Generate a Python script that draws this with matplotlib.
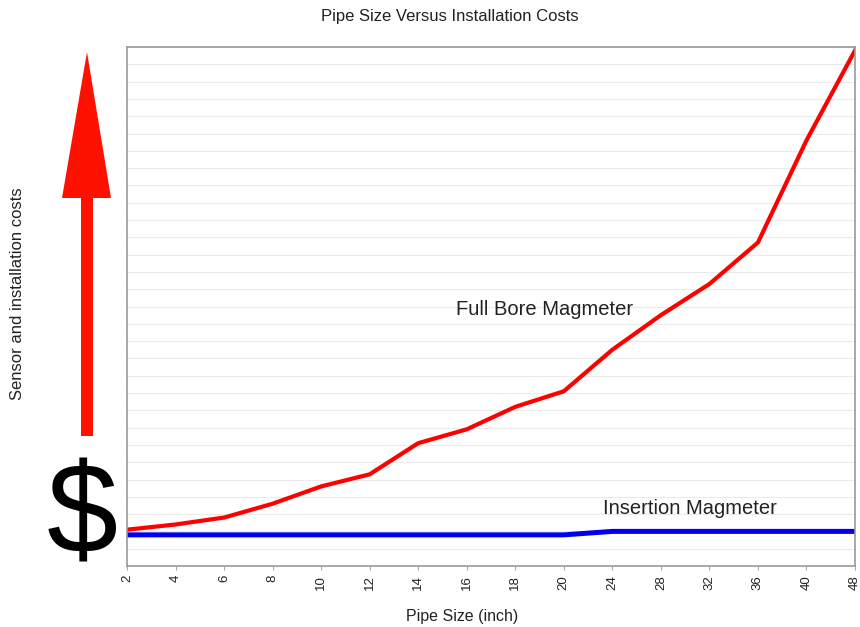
import numpy as np
import matplotlib.pyplot as plt
from matplotlib.patches import Polygon

plt.rcParams['font.family'] = ['Liberation Sans', 'DejaVu Sans']

pipe_sizes = ['2', '4', '6', '8', '10', '12', '14', '16', '18', '20', '24', '28', '32', '36', '40', '48']
full_bore = [2.1, 2.4, 2.8, 3.6, 4.6, 5.3, 7.1, 7.9, 9.2, 10.1, 12.5, 14.5, 16.3, 18.7, 24.6, 29.8]
insertion = [1.8, 1.8, 1.8, 1.8, 1.8, 1.8, 1.8, 1.8, 1.8, 1.8, 2.0, 2.0, 2.0, 2.0, 2.0, 2.0]

fig = plt.figure(figsize=(8.6, 6.27), dpi=100)
ax = fig.add_axes([127/860, 61/627, 728/860, 519/627])

x = np.arange(len(pipe_sizes))
ax.plot(x, full_bore, color='#ff0000', lw=3.0, solid_joinstyle='round')
ax.plot(x, insertion, color='#0000ee', lw=3.6)

ax.set_xlim(0, len(pipe_sizes) - 1)
ax.set_ylim(0, 30)
ax.set_xticks(x)
ax.set_xticklabels(pipe_sizes, rotation=90, fontsize=9.5, color='#222222')
ax.set_yticks(np.arange(0, 31, 1))
ax.set_yticklabels([])
ax.tick_params(axis='y', length=0)
ax.tick_params(axis='x', length=3, color='#aaaaaa')
ax.grid(axis='y', color='#ebebeb', lw=0.8)
for s in ax.spines.values():
    s.set_color('#999999')
    s.set_linewidth(1.2)

fig.text(462/860, 1 - 617/627, 'Pipe Size (inch)', ha='center', va='center',
         fontsize=11.5, color='#222222')
fig.text(450/860, 1 - 17/627, 'Pipe Size Versus Installation Costs', ha='center', va='center',
         fontsize=12, color='#222222')
fig.text(18/860, 1 - 294/627, 'Sensor and installation costs', rotation=90,
         ha='center', va='center', fontsize=12, color='#222222')

ax.text(8.6, 14.8, 'Full Bore Magmeter', ha='center', va='center', fontsize=14.5, color='#222222')
ax.text(11.6, 3.3, 'Insertion Magmeter', ha='center', va='center', fontsize=14.5, color='#222222')

# big arrow and dollar sign on the left
ov = fig.add_axes([0, 0, 1, 1], facecolor='none')
ov.set_xlim(0, 860)
ov.set_ylim(627, 0)
ov.axis('off')
arrow = [(81, 436), (93, 436), (93, 198), (111, 198), (87, 52), (62, 198), (81, 198)]
ov.add_patch(Polygon(arrow, closed=True, color='#ff1100', lw=0))
ov.text(82, 521, '$', ha='center', va='center', fontsize=92, color='black')

fig.savefig('out.png', dpi=100)
